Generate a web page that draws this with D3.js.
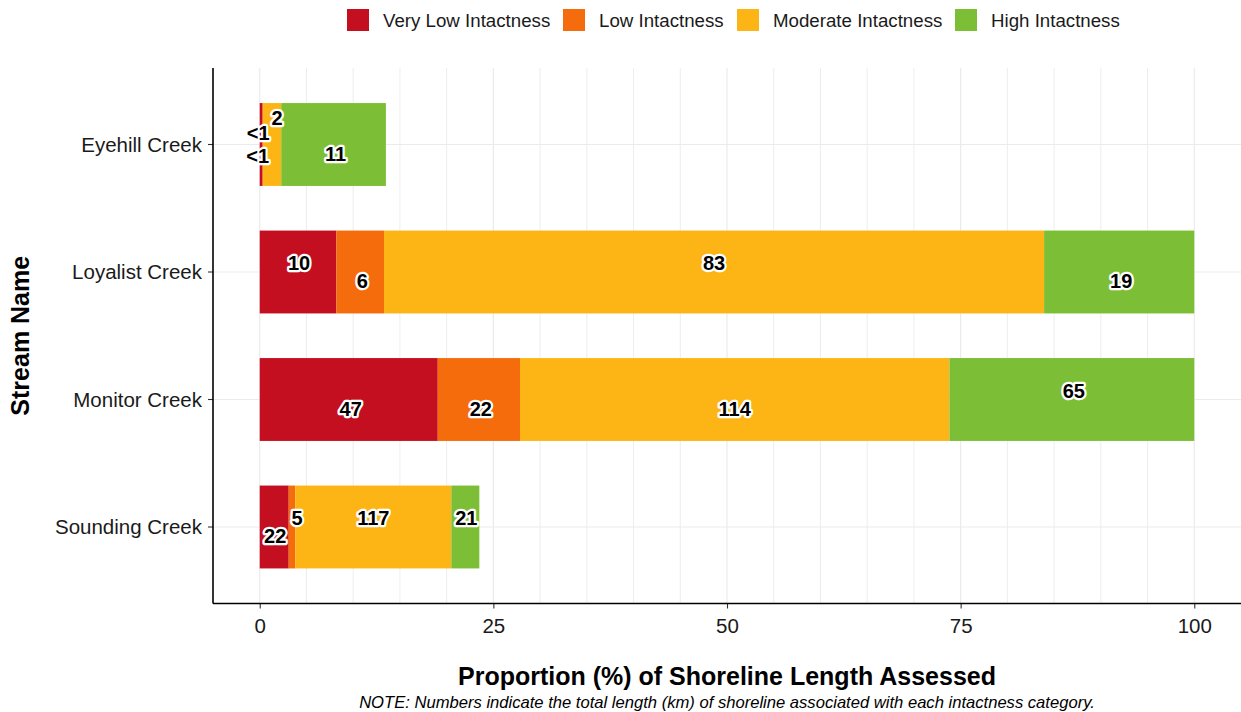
<!DOCTYPE html>
<html><head><meta charset="utf-8">
<script src="https://cdn.jsdelivr.net/npm/d3@7"></script>
<style>
body{margin:0;background:#fff;}
svg text{font-family:"Liberation Sans",Arial,sans-serif;}
</style></head>
<body><svg id="c" width="1241" height="712"></svg>
<script>
// ---- data ----
const streams = ["Eyehill Creek","Loyalist Creek","Monitor Creek","Sounding Creek"];
const categories = ["Very Low Intactness","Low Intactness","Moderate Intactness","High Intactness"];
// proportion (%) of shoreline length per category, per stream (order as streams)
const veryLowPct  = [0.3, 8.2, 19.05, 3.1];
const lowPct      = [0.05, 5.1, 8.8, 0.7];
const moderatePct = [1.95, 70.63, 45.95, 16.7];
const highPct     = [11.2, 16.07, 26.2, 3.0];
// km labels
const veryLowKm  = ["<1","10","47","22"];
const lowKm      = ["<1","6","22","5"];
const moderateKm = ["2","83","114","117"];
const highKm     = ["11","19","65","21"];
const xTicks = [0,25,50,75,100];
const colors = ["#C40F20","#F46C0B","#FDB515","#7CBF36"];

// label vertical nudges (fraction of row step), repel-like placement
const labelNudge = [
  [-0.09,0.09,-0.21,0.07],
  [-0.07,0.07,-0.07,0.07],
  [0.07,0.07,0.07,-0.07],
  [0.07,-0.07,-0.07,-0.07]
];
const labelXNudge = [
  [-3,-5,5,2],
  [1,2,0,2],
  [2,2,0,2],
  [1,5,0,1]
];

const pctSeries = [veryLowPct,lowPct,moderatePct,highPct];
const kmSeries = [veryLowKm,lowKm,moderateKm,highKm];

const svg = d3.select("#c");
const L=213, R=1241, T=68, B=603.5;
const x = d3.scaleLinear().domain([-5,105]).range([L,R]);
const step = (B-T)/(streams.length-1+1.2);
const y = d3.scalePoint().domain(streams).range([T+step*0.6, B-step*0.6]);
const yc = s => y(s);
const barH = step*0.65;

// grid
const gridVals = d3.range(0,101,5);
svg.append("g").selectAll("line").data(gridVals).join("line")
  .attr("x1",d=>x(d)).attr("x2",d=>x(d)).attr("y1",T).attr("y2",B)
  .attr("stroke","#ebebeb").attr("stroke-width",d=>d%25===0?1.2:0.9);
svg.append("g").selectAll("line").data(streams).join("line")
  .attr("x1",L).attr("x2",R).attr("y1",d=>yc(d)).attr("y2",d=>yc(d))
  .attr("stroke","#ebebeb").attr("stroke-width",1.2);

// stacked rows
const rows = streams.map((s,i)=>{
  let acc=0;
  return categories.map((c,j)=>{
    const v=pctSeries[j][i]; const r={s,i,j,x0:acc,x1:acc+v,km:kmSeries[j][i]}; acc+=v; return r;
  });
}).flat();

svg.append("g").selectAll("rect").data(rows).join("rect")
  .attr("x",d=>x(d.x0)).attr("width",d=>x(d.x1)-x(d.x0))
  .attr("y",d=>yc(d.s)-barH/2).attr("height",barH)
  .attr("fill",d=>colors[d.j]);

// labels
svg.append("g").selectAll("text").data(rows).join("text")
  .attr("x",d=>x((d.x0+d.x1)/2)+labelXNudge[d.i][d.j])
  .attr("y",d=>yc(d.s)+labelNudge[d.i][d.j]*step)
  .attr("dy","0.36em").attr("text-anchor","middle")
  .attr("font-size",20).attr("font-weight","bold")
  .attr("fill","#000").attr("stroke","#fff").attr("stroke-width",4.5)
  .attr("stroke-linejoin","round").attr("paint-order","stroke")
  .text(d=>d.km);

// axes
const xAxis = d3.axisBottom(x).tickValues(xTicks).tickSize(5).tickPadding(10);
const gx = svg.append("g").attr("transform",`translate(0,${B})`).call(xAxis);
gx.select(".domain").remove();
gx.selectAll("line").attr("stroke","#333").attr("stroke-width",1.1);
gx.selectAll("text").attr("font-size",20.5).attr("fill","#1a1a1a").attr("font-family","Liberation Sans, Arial, sans-serif");
svg.append("line").attr("x1",L).attr("x2",R).attr("y1",B).attr("y2",B).attr("stroke","#000").attr("stroke-width",1.6);

const gy = svg.append("g");
streams.forEach(s=>{
  gy.append("line").attr("x1",L-5).attr("x2",L).attr("y1",yc(s)).attr("y2",yc(s)).attr("stroke","#333").attr("stroke-width",1.1);
  gy.append("text").attr("x",L-11).attr("y",yc(s)).attr("dy","0.36em").attr("text-anchor","end")
    .attr("font-size",20.5).attr("fill","#1a1a1a").text(s);
});
svg.append("line").attr("x1",L).attr("x2",L).attr("y1",T).attr("y2",B).attr("stroke","#000").attr("stroke-width",1.6);

// titles
svg.append("text").attr("x",(L+R)/2).attr("y",685).attr("text-anchor","middle")
  .attr("font-size",25).attr("font-weight","bold").text("Proportion (%) of Shoreline Length Assessed");
svg.append("text").attr("x",(L+R)/2).attr("y",708).attr("text-anchor","middle")
  .attr("font-size",16.6).attr("font-style","italic")
  .text("NOTE: Numbers indicate the total length (km) of shoreline associated with each intactness category.");
svg.append("text").attr("transform",`translate(29,${(T+B)/2}) rotate(-90)`).attr("text-anchor","middle")
  .attr("font-size",25).attr("font-weight","bold").text("Stream Name");

// legend
const legX = [347,563,737,955];
const lg = svg.append("g");
categories.forEach((c,i)=>{
  lg.append("rect").attr("x",legX[i]).attr("y",9).attr("width",22).attr("height",22).attr("fill",colors[i]);
  lg.append("text").attr("x",legX[i]+36).attr("y",20).attr("dy","0.36em").attr("font-size",18.7).attr("fill","#1a1a1a").text(c);
});
</script></body></html>
